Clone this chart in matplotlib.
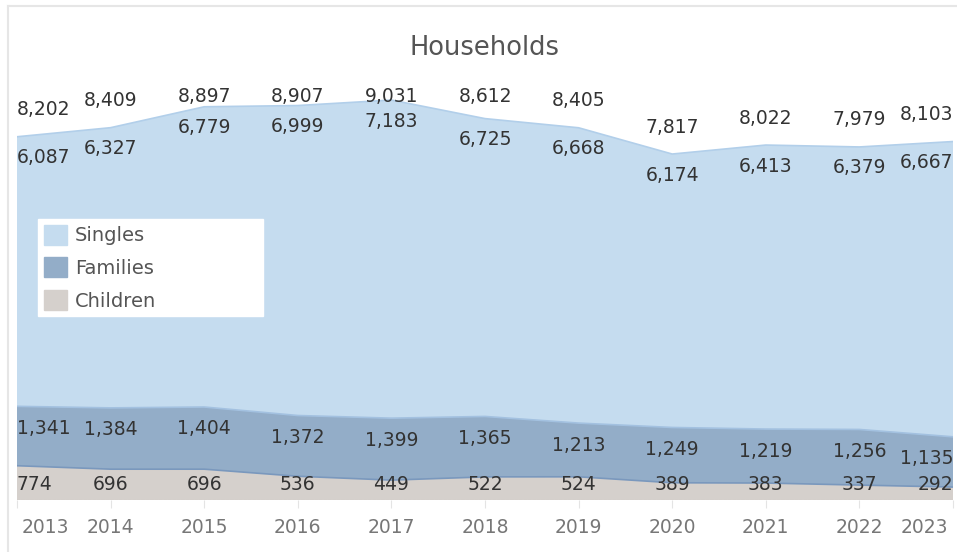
import numpy as np
import matplotlib.pyplot as plt
from matplotlib.patches import Patch
from matplotlib.transforms import ScaledTranslation

plt.rcParams['font.family'] = ['DejaVu Sans']

years = [2013, 2014, 2015, 2016, 2017, 2018, 2019, 2020, 2021, 2022, 2023]
children = [774, 696, 696, 536, 449, 522, 524, 389, 383, 337, 292]
families = [1341, 1384, 1404, 1372, 1399, 1365, 1213, 1249, 1219, 1256, 1135]
singles = [6087, 6327, 6779, 6999, 7183, 6725, 6668, 6174, 6413, 6379, 6667]
# reported household totals
totals = [8202, 8409, 8897, 8907, 9031, 8612, 8405, 7817, 8022, 7979, 8103]

c_singles = '#c5dcef'
c_families = '#93adc8'
c_children = '#d5d0cc'
txt = '#333333'

W, H = 957, 552
fig = plt.figure(figsize=(W / 100, H / 100), dpi=100)
# plot area in pixels: x 17..953, y 88..500 (from top)
ax = fig.add_axes([17 / W, (H - 500) / H, 936 / W, 412 / H])

upp = 22.58                 # data units per pixel
ymax = 412 * upp
x = np.array(years, dtype=float)
ch = np.array(children)
fa = np.array(families)
si = np.array(singles)
tot = np.array(totals)
top = ch + fa + si

ax.stackplot(x, ch, fa, si, colors=[c_children, c_families, c_singles],
             linewidth=0)
ax.plot(x, ch, color='#7a98bd', lw=1.2)
ax.plot(x, ch + fa, color='#a3c1e0', lw=1.2)
ax.plot(x, top, color='#b2cfea', lw=1.2)

ax.set_xlim(x[0], x[-1])
ax.set_ylim(0, ymax)
for s in ax.spines.values():
    s.set_visible(False)
ax.axhline(0, color='#c8c8c8', lw=0.8, ls=(0, (2, 2)))
ax.set_yticks([])

ax.set_xticks(x)
ax.set_xticklabels([str(y) for y in years])
ax.tick_params(axis='x', length=6, width=0.8, color='#e4e4e4',
               labelcolor='#777777', labelsize=13.5, pad=7)
ticklabels = ax.get_xticklabels()
ticklabels[0].set_ha('left')
ticklabels[0].set_transform(ticklabels[0].get_transform()
                            + ScaledTranslation(0.05, 0, fig.dpi_scale_trans))
ticklabels[-1].set_ha('right')
ticklabels[-1].set_transform(ticklabels[-1].get_transform()
                             + ScaledTranslation(-0.05, 0, fig.dpi_scale_trans))


def align(i):
    if i == 0:
        return 'left'
    if i == len(years) - 1:
        return 'right'
    return 'center'


fs = 13.5
for i in range(len(years)):
    ha = align(i)
    # total above the top edge, kept inside the plot area
    ty = min(top[i] + 27 * upp, ymax - 9 * upp)
    ax.text(x[i], ty, f'{tot[i]:,}', ha=ha, va='center', fontsize=fs, color=txt)
    ax.text(x[i], top[i] - 21 * upp, f'{si[i]:,}', ha=ha, va='center',
            fontsize=fs, color=txt)
    ax.text(x[i], ch[i] + fa[i] - 22 * upp, f'{fa[i]:,}', ha=ha, va='center',
            fontsize=fs, color=txt)
    cy = max(ch[i] - 19 * upp, 15 * upp)
    ax.text(x[i], cy, f'{ch[i]:,}', ha=ha, va='center', fontsize=fs, color=txt)

ax.text(0.5, 1 + 40 / 412, 'Households', transform=ax.transAxes, ha='center',
        va='center', fontsize=18.5, color='#555555')

handles = [Patch(color=c_singles, label='Singles'),
           Patch(color=c_families, label='Families'),
           Patch(color=c_children, label='Children')]
leg = ax.legend(handles=handles, loc='upper left', mode='expand',
                bbox_to_anchor=(38 / W, 1 - 219 / H, 225 / W, 0),
                bbox_transform=fig.transFigure, fontsize=14, frameon=True,
                fancybox=False, framealpha=1, edgecolor='white',
                facecolor='white', handlelength=1.2, handleheight=1.2,
                handletextpad=0.4, labelspacing=0.62, borderpad=0.3,
                borderaxespad=0)
for t in leg.get_texts():
    t.set_color('#555555')

# outer frame
fig.add_artist(plt.Line2D([8 / W, 1], [1 - 6 / H, 1 - 6 / H], color='#e6e6e6',
                          lw=1.5, transform=fig.transFigure))
fig.add_artist(plt.Line2D([8 / W, 8 / W], [0, 1 - 6 / H], color='#e6e6e6',
                          lw=1.5, transform=fig.transFigure))

fig.savefig('out.png', dpi=100)
